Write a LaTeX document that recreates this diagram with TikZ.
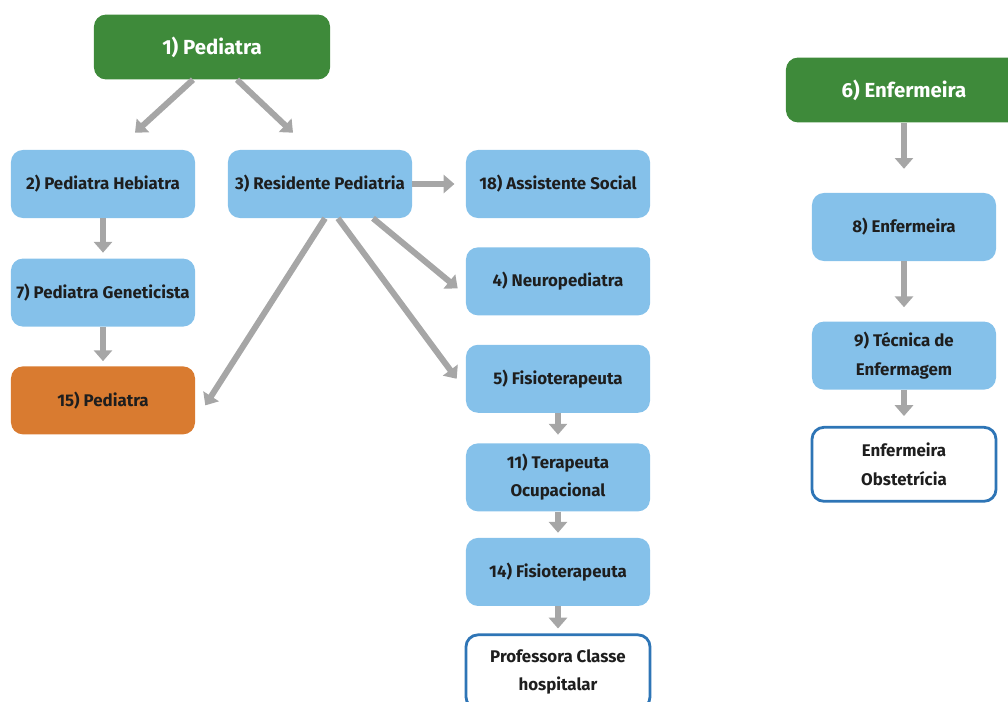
\documentclass[tikz,border=0pt]{standalone}
\usepackage{fontspec}
\setmainfont{Fira Sans}
\usetikzlibrary{positioning}
\usetikzlibrary{arrows.meta}

\definecolor{boxgreen}{HTML}{3E8A3A}
\definecolor{boxblue}{HTML}{85C1EA}
\definecolor{boxorange}{HTML}{D97B30}
\definecolor{edgeblue}{HTML}{2E75B6}
\definecolor{arrowgray}{HTML}{A6A6A6}
\definecolor{textdark}{HTML}{1E1E1E}

\tikzset{
  role/.style={rectangle, rounded corners=0.3cm, minimum width=4.6cm, minimum height=1.7cm, align=center,
    text=textdark, font=\bfseries\fontsize{12}{20}\selectfont},
  bluerole/.style={role, fill=boxblue},
  headrole/.style={role, fill=boxgreen, text=white, minimum width=5.9cm, minimum height=1.62cm,
    font=\bfseries\fontsize{14.5}{20}\selectfont},
  orangerole/.style={role, fill=boxorange},
  openrole/.style={role, fill=white, draw=edgeblue, line width=0.07cm, minimum height=1.85cm},
  arr/.style={draw=arrowgray, line width=0.15cm, -{Triangle[width=0.45cm,length=0.27cm]}}
}

\begin{document}
\begin{tikzpicture}[x=0.025cm, y=-0.025cm]

    \useasboundingbox (0,0) rectangle (1008,702);

    % Nodes - pediatria
    \node[headrole] (ped1) at (212,47) {1) Pediatra};
    \node[bluerole] (ped2) at (103,184) {2) Pediatra Hebiatra};
    \node[bluerole, below=1cm of ped2] (ped7) {7) Pediatra Geneticista};
    \node[orangerole, below=0.98cm of ped7] (ped15) {15) Pediatra};
    \node[bluerole] (res3) at (320,184) {3) Residente Pediatria};

    % Nodes - equipe
    \node[bluerole] (ass18) at (558,184) {18) Assistente Social};
    \node[bluerole, below=0.72cm of ass18] (neu4) {4) Neuropediatra};
    \node[bluerole, below=0.72cm of neu4] (fis5) {5) Fisioterapeuta};
    \node[bluerole, below=0.75cm of fis5] (ter11) {11) Terapeuta\\Ocupacional};
    \node[bluerole, below=0.65cm of ter11] (fis14) {14) Fisioterapeuta};
    \node[openrole, below=0.68cm of fis14] (prof) {Professora Classe\\hospitalar};

    % Nodes - enfermagem
    \node[headrole] (enf6) at (904,90) {6) Enfermeira};
    \node[bluerole] (enf8) at (904,227) {8) Enfermeira};
    \node[bluerole, below=1.5cm of enf8] (tec9) {9) Técnica de\\Enfermagem};
    \node[openrole, below=0.9cm of tec9] (obst) {Enfermeira\\Obstetrícia};

    % Arrows
    \draw[arr] ([shift={(-19,0)}]ped1.south) -- ([shift={(32,-17)}]ped2.north);
    \draw[arr] ([shift={(25,0)}]ped1.south) -- ([shift={(-27,-17)}]res3.north);
    \draw[arr, shorten >=4pt] (ped2) -- (ped7);
    \draw[arr, shorten >=3.5pt] (ped7) -- (ped15);
    \draw[arr, shorten >=8pt] (res3.east) -- (ass18.west);
    \draw[arr] ([shift={(53,0)}]res3.south) -- ([shift={(-8,7)}]neu4.west);
    \draw[arr] ([shift={(18,0)}]res3.south) -- ([shift={(-9,0)}]fis5.west);
    \draw[arr] ([shift={(5,0)}]res3.south) -- ([shift={(10,5)}]ped15.east);
    \draw[arr, shorten >=6pt] (fis5) -- (ter11);
    \draw[arr, shorten >=3.5pt] (ter11) -- (fis14);
    \draw[arr, shorten >=3.5pt] (fis14) -- (prof);
    \draw[arr, shorten >=17pt] (enf6) -- (enf8);
    \draw[arr, shorten >=10pt] (enf8) -- (tec9);
    \draw[arr, shorten >=7pt] (tec9) -- (obst);

\end{tikzpicture}
\end{document}
